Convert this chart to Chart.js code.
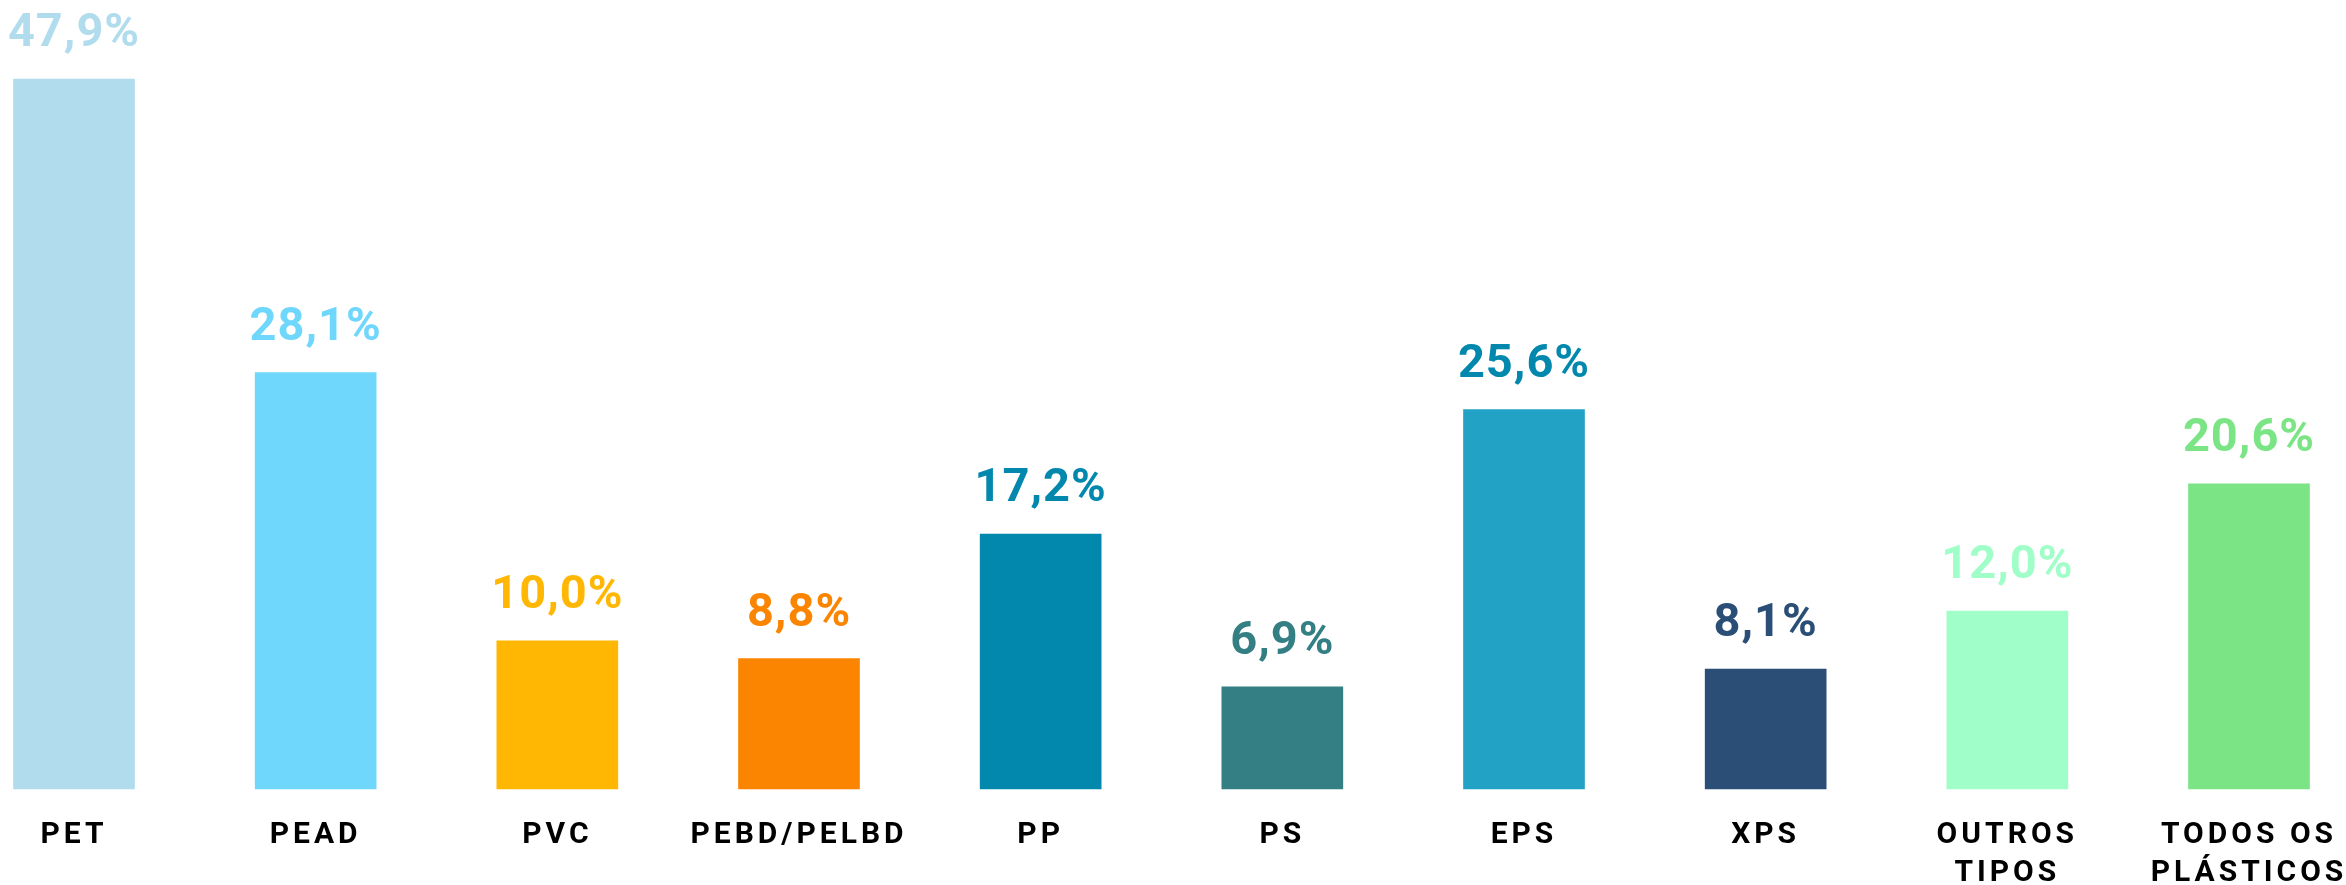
<!DOCTYPE html>
<html>
<head>
<meta charset="utf-8">
<script src="https://cdn.jsdelivr.net/npm/chart.js@4.4.1/dist/chart.umd.min.js"></script>
<style>
  html, body { margin: 0; padding: 0; background: #fff; }
  #wrap { width: 2346px; height: 885px; }
</style>
</head>
<body>
<div id="wrap"><canvas id="plasticChart"></canvas></div>
<script>
// Data
var categories = ['PET', 'PEAD', 'PVC', 'PEBD/PELBD', 'PP', 'PS', 'EPS', 'XPS', ['OUTROS', 'TIPOS'], ['TODOS OS', 'PLÁSTICOS']];
var rates = [47.9, 28.1, 10.0, 8.8, 17.2, 6.9, 25.6, 8.1, 12.0, 20.6];
var barColors = ['#b1dcee', '#70d7fc', '#ffb703', '#fb8500', '#0288ad', '#347f83', '#22a2c4', '#2b4e76', '#a0fec9', '#7be585'];
var labelColors = ['#b1dcee', '#70d7fc', '#ffb703', '#fb8500', '#0288ad', '#347f83', '#0288ad', '#2b4e76', '#a0fec9', '#7be585'];

// draws the percentage above each bar
var valueLabels = {
    id: 'valueLabels',
    beforeDraw: function(chart) {
        chart.ctx.letterSpacing = '4px';
    },
    afterDatasetsDraw: function(chart) {
        var ctx = chart.ctx;
        var meta = chart.getDatasetMeta(0);
        ctx.save();
        ctx.letterSpacing = '1px';
        ctx.font = 'bold 47px Roboto';
        ctx.textAlign = 'center';
        ctx.textBaseline = 'alphabetic';
        meta.data.forEach(function(bar, i) {
            ctx.fillStyle = labelColors[i];
            ctx.fillText(rates[i].toFixed(1).replace('.', ',') + '%', bar.x, bar.y - 33);
        });
        ctx.restore();
    }
};

var ctx = document.getElementById('plasticChart');
var chart = new Chart(ctx, {
    type: 'bar',
    data: {
        labels: categories,
        datasets: [{
            data: rates,
            backgroundColor: barColors,
            borderWidth: 0,
            barThickness: 121,
            clip: false
        }]
    },
    options: {
        responsive: true,
        maintainAspectRatio: false,
        animation: false,
        layout: {
            padding: { left: 74, right: 97, top: 48, bottom: -34 }
        },
        plugins: {
            legend: { display: false },
            tooltip: { enabled: false }
        },
        scales: {
            x: {
                offset: false,
                border: { display: false },
                grid: { display: false, drawTicks: false },
                afterFit: function(scale) {
                    // keep the edge labels from pushing the bars inwards
                    scale.paddingLeft = 0;
                    scale.paddingRight = 0;
                },
                ticks: {
                    color: '#000',
                    autoSkip: false,
                    maxRotation: 0,
                    padding: 27,
                    font: { family: 'Roboto', size: 30, weight: 'bold', lineHeight: '38px' }
                }
            },
            y: {
                display: false,
                min: 0,
                max: 50
            }
        }
    },
    plugins: [valueLabels]
});
</script>
</body>
</html>
